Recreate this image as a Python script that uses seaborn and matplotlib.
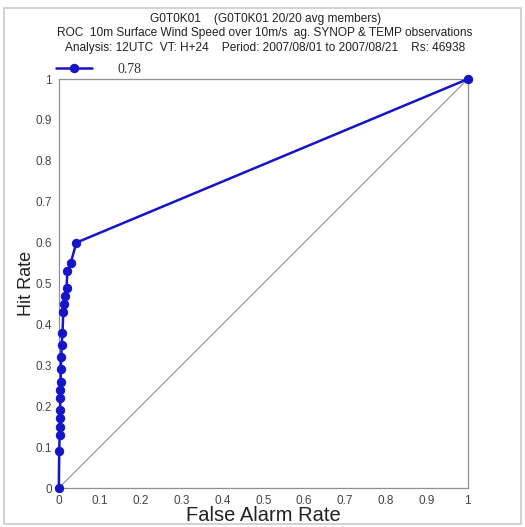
import matplotlib
matplotlib.use("Agg")
import matplotlib.pyplot as plt
import seaborn as sns
import pandas as pd
from matplotlib.patches import Rectangle

far = [0.0, 0.001, 0.002, 0.002, 0.003, 0.003, 0.004, 0.004, 0.005, 0.005,
       0.006, 0.007, 0.009, 0.011, 0.012, 0.015, 0.019, 0.021, 0.029, 0.043, 1.0]
hit = [0.0, 0.09, 0.13, 0.15, 0.17, 0.19, 0.22, 0.24, 0.26, 0.29,
       0.32, 0.35, 0.38, 0.43, 0.45, 0.47, 0.49, 0.53, 0.55, 0.60, 1.0]
legend_label = "0.78"
title_lines = ["G0T0K01    (G0T0K01 20/20 avg members)",
               "ROC  10m Surface Wind Speed over 10m/s  ag. SYNOP & TEMP observations",
               "Analysis: 12UTC  VT: H+24    Period: 2007/08/01 to 2007/08/21    Rs: 46938"]
ticks = [0, 0.1, 0.2, 0.3, 0.4, 0.5, 0.6, 0.7, 0.8, 0.9, 1]
tick_labels = ["0", "0.1", "0.2", "0.3", "0.4", "0.5", "0.6", "0.7", "0.8", "0.9", "1"]

df = pd.DataFrame({"far": far, "hit": hit})

sns.set_style("white")
plt.rcParams['font.family'] = ['Liberation Sans', 'DejaVu Sans']

fig = plt.figure(figsize=(5.25, 5.27), dpi=100)
fig.patches.append(Rectangle((0.008, 0.006), 0.984, 0.978, transform=fig.transFigure,
                             fill=False, edgecolor="#c8c8d0", linewidth=1.2))
ax = fig.add_axes([0.112, 0.074, 0.779, 0.776])

blue = "#1414c8"
ax.plot([0, 1], [0, 1], color="#909090", linewidth=0.8)
sns.lineplot(data=df, x="far", y="hit", ax=ax, color=blue, linewidth=1.8,
             marker="o", markersize=6, markeredgecolor=blue, sort=False,
             estimator=None, label=legend_label, clip_on=False, zorder=5)

ax.set_xlim(0, 1)
ax.set_ylim(0, 1)
ax.set_xticks(ticks)
ax.set_xticklabels(tick_labels)
ax.set_yticks(ticks)
ax.set_yticklabels(tick_labels)
ax.tick_params(axis="both", direction="out", length=3, width=0.7, color="#808080",
               labelsize=8.5, labelcolor="#444444", pad=2)
for s in ax.spines.values():
    s.set_color("#909090")
    s.set_linewidth(0.9)
ax.set_xlabel("False Alarm Rate", fontsize=14.5, color="#222222", labelpad=-1)
ax.set_ylabel("Hit Rate", fontsize=13, color="#222222")
ax.yaxis.set_label_coords(-0.058, 0.5)

leg = ax.legend(loc="lower left", bbox_to_anchor=(-0.01, 1.005), frameon=False,
                handlelength=2.6, handletextpad=1.8, borderaxespad=0, borderpad=0.1)
for t in leg.get_texts():
    t.set_family("Liberation Serif")
    t.set_fontsize(10)
    t.set_color("#333333")

fig.text(0.505, 0.975, "\n".join(title_lines), ha="center", va="top",
         fontsize=8.6, color="#222222", linespacing=1.25)

fig.savefig("out.png", dpi=100)
